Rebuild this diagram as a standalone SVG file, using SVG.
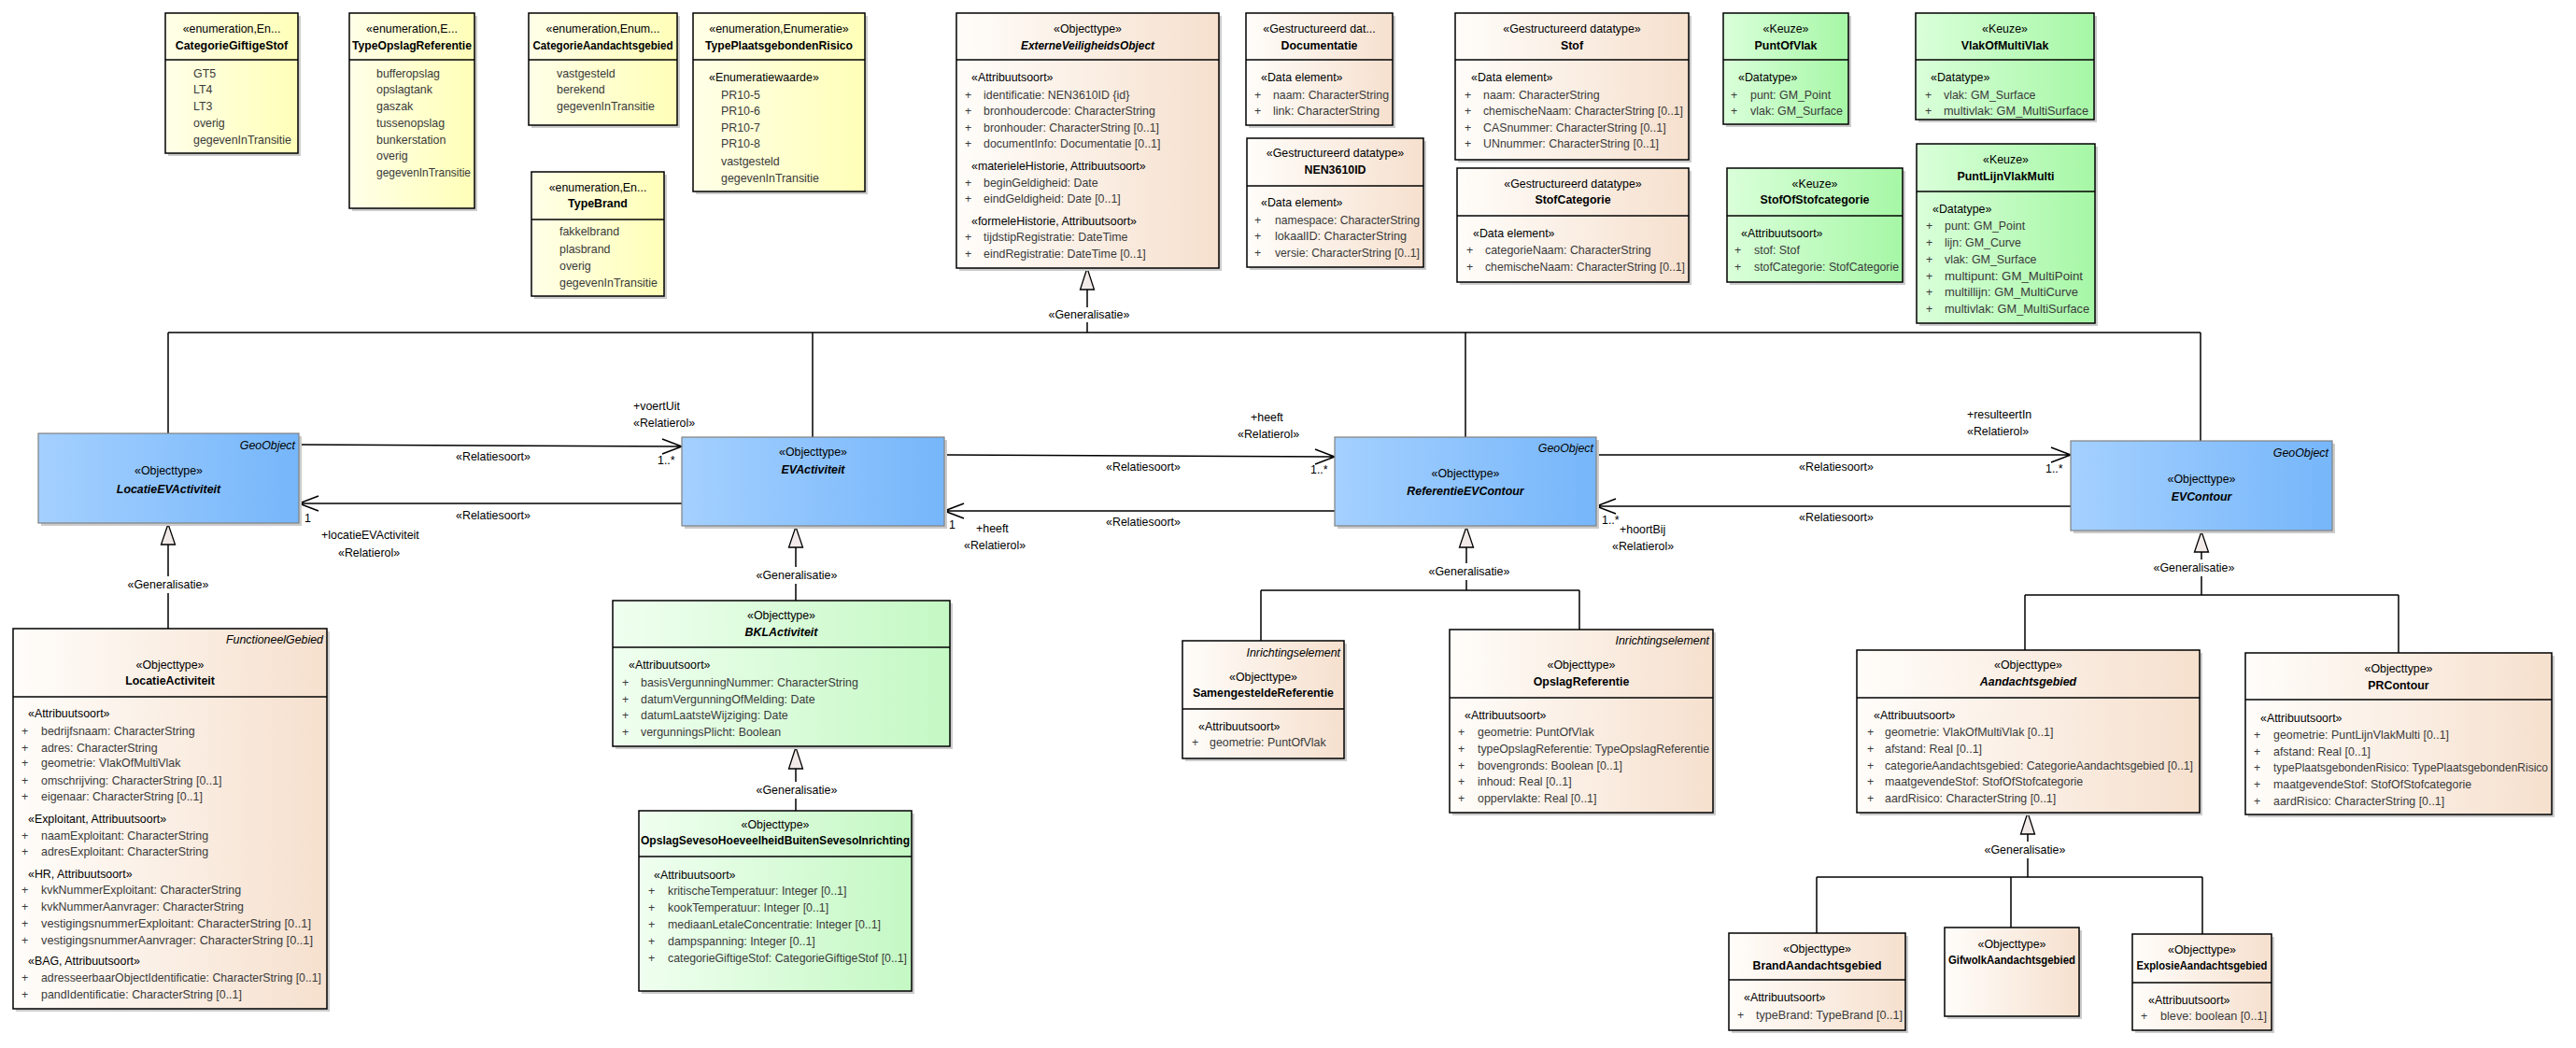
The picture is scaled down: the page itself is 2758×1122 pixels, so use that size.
<svg xmlns="http://www.w3.org/2000/svg" width="2758" height="1122" viewBox="0 0 2758 1122">
<defs>
<linearGradient id="gY" x1="0" y1="0" x2="1" y2="0"><stop offset="0" stop-color="#FFFFE8"/><stop offset="1" stop-color="#FFFFB8"/></linearGradient>
<linearGradient id="gB" x1="0" y1="0" x2="1" y2="0"><stop offset="0" stop-color="#FFFDFA"/><stop offset="1" stop-color="#F6E0CE"/></linearGradient>
<linearGradient id="gK" x1="0" y1="0" x2="1" y2="0"><stop offset="0" stop-color="#DAFFDA"/><stop offset="1" stop-color="#A6F7A6"/></linearGradient>
<linearGradient id="gL" x1="0" y1="0" x2="1" y2="0"><stop offset="0" stop-color="#F0FFF0"/><stop offset="1" stop-color="#C4F8C4"/></linearGradient>
<linearGradient id="gO" x1="0" y1="0" x2="1" y2="0"><stop offset="0" stop-color="#A4D0FF"/><stop offset="1" stop-color="#76B6FA"/></linearGradient>
</defs>
<style>
text{font-family:"Liberation Sans",Arial,sans-serif;font-size:12.4px;fill:#000}
.m{text-anchor:middle}
.e{text-anchor:end}
.b{font-weight:bold}
.i{font-style:italic}
.a{fill:#3a3a3a}
.sh{fill:#cccccc}
.bx{stroke:#000;stroke-width:1.5}
.bo{stroke:#808080;stroke-width:1.2}
.dv{stroke:#000;stroke-width:1.5}
.y{fill:url(#gY)}
.g{fill:url(#gB)}
.k{fill:url(#gK)}
.l{fill:url(#gL)}
.o{fill:url(#gO)}
.c{stroke:#000;stroke-width:1.5;fill:none}
.tri{fill:#F2EAE8;stroke:#000;stroke-width:1.3}
</style>
<rect width="2758" height="1122" fill="#fff"/>

<g id="connectors">
<!-- generalisation tree to ExterneVeiligheidsObject -->
<polygon class="tri" points="1164,287 1156.5,310 1171.5,310"/>
<path class="c" d="M1164,310V329M1164,345V356M180,356H2356M180,356V464M870,356V468M1569,356V468M2356,356V472"/>
<text class="m" x="1166" y="341">«Generalisatie»</text>
<!-- LocatieEVActiviteit <-> EVActiviteit -->
<path class="c" d="M320,476L730,478M709,470L730,478L709,486"/>
<text class="m" x="528" y="493">«Relatiesoort»</text>
<text x="678" y="439">+voertUit</text>
<text x="678" y="457">«Relatierol»</text>
<text x="704" y="497">1..*</text>
<path class="c" d="M730,539H320M341,531L320,539L341,547"/>
<text class="m" x="528" y="556">«Relatiesoort»</text>
<text x="326" y="559">1</text>
<text x="344" y="577">+locatieEVActiviteit</text>
<text x="362" y="596">«Relatierol»</text>
<!-- EVActiviteit <-> ReferentieEVContour -->
<path class="c" d="M1011,487L1429,489M1408,481L1429,489L1408,497"/>
<text class="m" x="1224" y="504">«Relatiesoort»</text>
<text x="1339" y="451">+heeft</text>
<text x="1325" y="469">«Relatierol»</text>
<text x="1403" y="507">1..*</text>
<path class="c" d="M1429,547H1011M1032,539L1011,547L1032,555"/>
<text class="m" x="1224" y="563">«Relatiesoort»</text>
<text x="1016" y="566">1</text>
<text x="1045" y="570">+heeft</text>
<text x="1032" y="588">«Relatierol»</text>
<!-- ReferentieEVContour <-> EVContour -->
<path class="c" d="M1709,487H2217M2196,479L2217,487L2196,495"/>
<text class="m" x="1966" y="504">«Relatiesoort»</text>
<text x="2106" y="448">+resulteertIn</text>
<text x="2106" y="466">«Relatierol»</text>
<text x="2190" y="506">1..*</text>
<path class="c" d="M2217,542H1709M1730,534L1709,542L1730,550"/>
<text class="m" x="1966" y="558">«Relatiesoort»</text>
<text x="1715" y="561">1..*</text>
<text x="1734" y="571">+hoortBij</text>
<text x="1726" y="589">«Relatierol»</text>
<!-- LocatieActiviteit -> LocatieEVActiviteit -->
<polygon class="tri" points="180,561 172.5,583 187.5,583"/>
<path class="c" d="M180,583V617M180,635V673"/>
<text class="m" x="180" y="630">«Generalisatie»</text>
<!-- BKLActiviteit -> EVActiviteit -->
<polygon class="tri" points="852,564 844.5,586 859.5,586"/>
<path class="c" d="M852,586V607M852,625V643"/>
<text class="m" x="853" y="620">«Generalisatie»</text>
<!-- OpslagSeveso -> BKLActiviteit -->
<polygon class="tri" points="852,800 844.5,823 859.5,823"/>
<path class="c" d="M852,823V837M852,855V868"/>
<text class="m" x="853" y="850">«Generalisatie»</text>
<!-- Samengestelde/OpslagReferentie -> ReferentieEVContour -->
<polygon class="tri" points="1570,564 1562.5,586 1577.5,586"/>
<path class="c" d="M1570,586V603M1570,621V632M1350,632H1691M1350,632V686M1691,632V674"/>
<text class="m" x="1573" y="616">«Generalisatie»</text>
<!-- Aandachtsgebied/PRContour -> EVContour -->
<polygon class="tri" points="2357,569 2349.5,591 2364.5,591"/>
<path class="c" d="M2357,591V599M2357,617V637M2168,637H2568M2168,637V696M2568,637V699"/>
<text class="m" x="2349" y="612">«Generalisatie»</text>
<!-- Brand/Gifwolk/Explosie -> Aandachtsgebied -->
<polygon class="tri" points="2171,870 2163.5,893 2178.5,893"/>
<path class="c" d="M2171,893V901M2171,919V939M1945,939H2358M1945,939V999M2153,939V993M2358,939V1000"/>
<text class="m" x="2168" y="914">«Generalisatie»</text>
</g>

<g id="CategorieGiftigeStof">
<rect class="sh" x="180" y="17" width="142" height="150"/>
<rect class="bx y" x="177" y="14" width="142" height="150"/>
<line class="dv" x1="177" y1="64" x2="319" y2="64"/>
<text class="m" x="248" y="35">«enumeration,En...</text>
<text class="m b" x="248" y="53">CategorieGiftigeStof</text>
<text class="a" x="207" y="83">GT5</text>
<text class="a" x="207" y="100">LT4</text>
<text class="a" x="207" y="118">LT3</text>
<text class="a" x="207" y="136">overig</text>
<text class="a" x="207" y="154">gegevenInTransitie</text>
</g>

<g id="TypeOpslagReferentie">
<rect class="sh" x="377" y="17" width="134" height="209"/>
<rect class="bx y" x="374" y="14" width="134" height="209"/>
<line class="dv" x1="374" y1="64" x2="508" y2="64"/>
<text class="m" x="441" y="35">«enumeration,E...</text>
<text class="m b" x="441" y="53" textLength="128" lengthAdjust="spacingAndGlyphs">TypeOpslagReferentie</text>
<text class="a" x="403" y="83">bufferopslag</text>
<text class="a" x="403" y="100">opslagtank</text>
<text class="a" x="403" y="118">gaszak</text>
<text class="a" x="403" y="136">tussenopslag</text>
<text class="a" x="403" y="154">bunkerstation</text>
<text class="a" x="403" y="171">overig</text>
<text class="a" x="403" y="189" textLength="101" lengthAdjust="spacingAndGlyphs">gegevenInTransitie</text>
</g>

<g id="CategorieAandachtsgebied">
<rect class="sh" x="569" y="17" width="159" height="120"/>
<rect class="bx y" x="566" y="14" width="159" height="120"/>
<line class="dv" x1="566" y1="64" x2="725" y2="64"/>
<text class="m" x="645.5" y="35">«enumeration,Enum...</text>
<text class="m b" x="645.5" y="53" textLength="150" lengthAdjust="spacingAndGlyphs">CategorieAandachtsgebied</text>
<text class="a" x="596" y="83">vastgesteld</text>
<text class="a" x="596" y="100">berekend</text>
<text class="a" x="596" y="118">gegevenInTransitie</text>
</g>

<g id="TypeBrand">
<rect class="sh" x="572" y="187" width="142" height="133"/>
<rect class="bx y" x="569" y="184" width="142" height="133"/>
<line class="dv" x1="569" y1="235" x2="711" y2="235"/>
<text class="m" x="640" y="205">«enumeration,En...</text>
<text class="m b" x="640" y="222">TypeBrand</text>
<text class="a" x="599" y="252">fakkelbrand</text>
<text class="a" x="599" y="271">plasbrand</text>
<text class="a" x="599" y="289">overig</text>
<text class="a" x="599" y="307">gegevenInTransitie</text>
</g>

<g id="TypePlaatsgebondenRisico">
<rect class="sh" x="745" y="17" width="184" height="191"/>
<rect class="bx y" x="742" y="14" width="184" height="191"/>
<line class="dv" x1="742" y1="64" x2="926" y2="64"/>
<text class="m" x="834" y="35">«enumeration,Enumeratie»</text>
<text class="m b" x="834" y="53" textLength="158" lengthAdjust="spacingAndGlyphs">TypePlaatsgebondenRisico</text>
<text x="759" y="87">«Enumeratiewaarde»</text>
<text class="a" x="772" y="106">PR10-5</text>
<text class="a" x="772" y="123">PR10-6</text>
<text class="a" x="772" y="141">PR10-7</text>
<text class="a" x="772" y="158">PR10-8</text>
<text class="a" x="772" y="177">vastgesteld</text>
<text class="a" x="772" y="195">gegevenInTransitie</text>
</g>

<g id="ExterneVeiligheidsObject">
<rect class="sh" x="1027" y="17" width="281" height="273"/>
<rect class="bx g" x="1024" y="14" width="281" height="273"/>
<line class="dv" x1="1024" y1="64" x2="1305" y2="64"/>
<text class="m" x="1164.5" y="35">«Objecttype»</text>
<text class="m b i" x="1164.5" y="53" textLength="143" lengthAdjust="spacingAndGlyphs">ExterneVeiligheidsObject</text>
<text x="1040" y="87">«Attribuutsoort»</text>
<text class="a" x="1033" y="106">+</text><text class="a" x="1053" y="106">identificatie: NEN3610ID {id}</text>
<text class="a" x="1033" y="123">+</text><text class="a" x="1053" y="123">bronhoudercode: CharacterString</text>
<text class="a" x="1033" y="141">+</text><text class="a" x="1053" y="141">bronhouder: CharacterString [0..1]</text>
<text class="a" x="1033" y="158">+</text><text class="a" x="1053" y="158">documentInfo: Documentatie [0..1]</text>
<text x="1040" y="182">«materieleHistorie, Attribuutsoort»</text>
<text class="a" x="1033" y="200">+</text><text class="a" x="1053" y="200">beginGeldigheid: Date</text>
<text class="a" x="1033" y="217">+</text><text class="a" x="1053" y="217">eindGeldigheid: Date [0..1]</text>
<text x="1040" y="241">«formeleHistorie, Attribuutsoort»</text>
<text class="a" x="1033" y="258">+</text><text class="a" x="1053" y="258">tijdstipRegistratie: DateTime</text>
<text class="a" x="1033" y="276">+</text><text class="a" x="1053" y="276">eindRegistratie: DateTime [0..1]</text>
</g>

<g id="Documentatie">
<rect class="sh" x="1337" y="17" width="157" height="120"/>
<rect class="bx g" x="1334" y="14" width="157" height="120"/>
<line class="dv" x1="1334" y1="64" x2="1491" y2="64"/>
<text class="m" x="1412.5" y="35">«Gestructureerd dat...</text>
<text class="m b" x="1412.5" y="53">Documentatie</text>
<text x="1350" y="87">«Data element»</text>
<text class="a" x="1343" y="106">+</text><text class="a" x="1363" y="106" textLength="124" lengthAdjust="spacingAndGlyphs">naam: CharacterString</text>
<text class="a" x="1343" y="123">+</text><text class="a" x="1363" y="123" textLength="114" lengthAdjust="spacingAndGlyphs">link: CharacterString</text>
</g>

<g id="NEN3610ID">
<rect class="sh" x="1338" y="151" width="189" height="138"/>
<rect class="bx g" x="1335" y="148" width="189" height="138"/>
<line class="dv" x1="1335" y1="199" x2="1524" y2="199"/>
<text class="m" x="1429.5" y="168">«Gestructureerd datatype»</text>
<text class="m b" x="1429.5" y="186">NEN3610ID</text>
<text x="1350" y="221">«Data element»</text>
<text class="a" x="1343" y="240">+</text><text class="a" x="1365" y="240" textLength="155" lengthAdjust="spacingAndGlyphs">namespace: CharacterString</text>
<text class="a" x="1343" y="257">+</text><text class="a" x="1365" y="257" textLength="141" lengthAdjust="spacingAndGlyphs">lokaalID: CharacterString</text>
<text class="a" x="1343" y="275">+</text><text class="a" x="1365" y="275" textLength="155" lengthAdjust="spacingAndGlyphs">versie: CharacterString [0..1]</text>
</g>

<g id="Stof">
<rect class="sh" x="1561" y="17" width="250" height="157"/>
<rect class="bx g" x="1558" y="14" width="250" height="157"/>
<line class="dv" x1="1558" y1="64" x2="1808" y2="64"/>
<text class="m" x="1683" y="35">«Gestructureerd datatype»</text>
<text class="m b" x="1683" y="53">Stof</text>
<text x="1575" y="87">«Data element»</text>
<text class="a" x="1568" y="106">+</text><text class="a" x="1588" y="106">naam: CharacterString</text>
<text class="a" x="1568" y="123">+</text><text class="a" x="1588" y="123" textLength="214" lengthAdjust="spacingAndGlyphs">chemischeNaam: CharacterString [0..1]</text>
<text class="a" x="1568" y="141">+</text><text class="a" x="1588" y="141">CASnummer: CharacterString [0..1]</text>
<text class="a" x="1568" y="158">+</text><text class="a" x="1588" y="158">UNnummer: CharacterString [0..1]</text>
</g>

<g id="StofCategorie">
<rect class="sh" x="1563" y="183" width="248" height="122"/>
<rect class="bx g" x="1560" y="180" width="248" height="122"/>
<line class="dv" x1="1560" y1="231" x2="1808" y2="231"/>
<text class="m" x="1684" y="201">«Gestructureerd datatype»</text>
<text class="m b" x="1684" y="218">StofCategorie</text>
<text x="1577" y="254">«Data element»</text>
<text class="a" x="1570" y="272">+</text><text class="a" x="1590" y="272">categorieNaam: CharacterString</text>
<text class="a" x="1570" y="290">+</text><text class="a" x="1590" y="290" textLength="214" lengthAdjust="spacingAndGlyphs">chemischeNaam: CharacterString [0..1]</text>
</g>

<g id="PuntOfVlak">
<rect class="sh" x="1848" y="17" width="134" height="119"/>
<rect class="bx k" x="1845" y="14" width="134" height="119"/>
<line class="dv" x1="1845" y1="64" x2="1979" y2="64"/>
<text class="m" x="1912" y="35">«Keuze»</text>
<text class="m b" x="1912" y="53">PuntOfVlak</text>
<text x="1861" y="87">«Datatype»</text>
<text class="a" x="1853" y="106">+</text><text class="a" x="1874" y="106">punt: GM_Point</text>
<text class="a" x="1853" y="123">+</text><text class="a" x="1874" y="123" textLength="99" lengthAdjust="spacingAndGlyphs">vlak: GM_Surface</text>
</g>

<g id="StofOfStofcategorie">
<rect class="sh" x="1852" y="183" width="188" height="122"/>
<rect class="bx k" x="1849" y="180" width="188" height="122"/>
<line class="dv" x1="1849" y1="231" x2="2037" y2="231"/>
<text class="m" x="1943" y="201">«Keuze»</text>
<text class="m b" x="1943" y="218">StofOfStofcategorie</text>
<text x="1864" y="254">«Attribuutsoort»</text>
<text class="a" x="1857" y="272">+</text><text class="a" x="1878" y="272">stof: Stof</text>
<text class="a" x="1857" y="290">+</text><text class="a" x="1878" y="290" textLength="155" lengthAdjust="spacingAndGlyphs">stofCategorie: StofCategorie</text>
</g>

<g id="VlakOfMultiVlak">
<rect class="sh" x="2054" y="17" width="191" height="114"/>
<rect class="bx k" x="2051" y="14" width="191" height="114"/>
<line class="dv" x1="2051" y1="64" x2="2242" y2="64"/>
<text class="m" x="2146.5" y="35">«Keuze»</text>
<text class="m b" x="2146.5" y="53">VlakOfMultiVlak</text>
<text x="2067" y="87">«Datatype»</text>
<text class="a" x="2061" y="106">+</text><text class="a" x="2081" y="106">vlak: GM_Surface</text>
<text class="a" x="2061" y="123">+</text><text class="a" x="2081" y="123" textLength="155" lengthAdjust="spacingAndGlyphs">multivlak: GM_MultiSurface</text>
</g>

<g id="PuntLijnVlakMulti">
<rect class="sh" x="2055" y="157" width="191" height="192"/>
<rect class="bx k" x="2052" y="154" width="191" height="192"/>
<line class="dv" x1="2052" y1="205" x2="2243" y2="205"/>
<text class="m" x="2147.5" y="175">«Keuze»</text>
<text class="m b" x="2147.5" y="193">PuntLijnVlakMulti</text>
<text x="2069" y="228">«Datatype»</text>
<text class="a" x="2062" y="246">+</text><text class="a" x="2082" y="246">punt: GM_Point</text>
<text class="a" x="2062" y="264">+</text><text class="a" x="2082" y="264">lijn: GM_Curve</text>
<text class="a" x="2062" y="282">+</text><text class="a" x="2082" y="282">vlak: GM_Surface</text>
<text class="a" x="2062" y="300">+</text><text class="a" x="2082" y="300" textLength="148" lengthAdjust="spacingAndGlyphs">multipunt: GM_MultiPoint</text>
<text class="a" x="2062" y="317">+</text><text class="a" x="2082" y="317" textLength="143" lengthAdjust="spacingAndGlyphs">multillijn: GM_MultiCurve</text>
<text class="a" x="2062" y="335">+</text><text class="a" x="2082" y="335" textLength="155" lengthAdjust="spacingAndGlyphs">multivlak: GM_MultiSurface</text>
</g>

<g id="LocatieEVActiviteit">
<rect class="sh" x="44" y="467" width="279" height="96"/>
<rect class="bo o" x="41" y="464" width="279" height="96"/>
<text class="e i" x="316" y="481">GeoObject</text>
<text class="m" x="180.5" y="508">«Objecttype»</text>
<text class="m b i" x="180.5" y="528">LocatieEVActiviteit</text>
</g>

<g id="EVActiviteit">
<rect class="sh" x="733" y="471" width="281" height="95"/>
<rect class="bo o" x="730" y="468" width="281" height="95"/>
<text class="m" x="870.5" y="488">«Objecttype»</text>
<text class="m b i" x="870.5" y="507">EVActiviteit</text>
</g>

<g id="ReferentieEVContour">
<rect class="sh" x="1432" y="471" width="280" height="95"/>
<rect class="bo o" x="1429" y="468" width="280" height="95"/>
<text class="e i" x="1706" y="484">GeoObject</text>
<text class="m" x="1569" y="511">«Objecttype»</text>
<text class="m b i" x="1569" y="530">ReferentieEVContour</text>
</g>

<g id="EVContour">
<rect class="sh" x="2220" y="475" width="280" height="96"/>
<rect class="bo o" x="2217" y="472" width="280" height="96"/>
<text class="e i" x="2493" y="489">GeoObject</text>
<text class="m" x="2357" y="517">«Objecttype»</text>
<text class="m b i" x="2357" y="536">EVContour</text>
</g>

<g id="LocatieActiviteit">
<rect class="sh" x="17" y="676" width="336" height="407"/>
<rect class="bx g" x="14" y="673" width="336" height="407"/>
<line class="dv" x1="14" y1="746" x2="350" y2="746"/>
<text class="e i" x="346" y="689">FunctioneelGebied</text>
<text class="m" x="182" y="716">«Objecttype»</text>
<text class="m b" x="182" y="733">LocatieActiviteit</text>
<text x="30" y="768">«Attribuutsoort»</text>
<text class="a" x="23" y="787">+</text><text class="a" x="44" y="787">bedrijfsnaam: CharacterString</text>
<text class="a" x="23" y="805">+</text><text class="a" x="44" y="805">adres: CharacterString</text>
<text class="a" x="23" y="821">+</text><text class="a" x="44" y="821">geometrie: VlakOfMultiVlak</text>
<text class="a" x="23" y="840">+</text><text class="a" x="44" y="840">omschrijving: CharacterString [0..1]</text>
<text class="a" x="23" y="857">+</text><text class="a" x="44" y="857">eigenaar: CharacterString [0..1]</text>
<text x="30" y="881">«Exploitant, Attribuutsoort»</text>
<text class="a" x="23" y="899">+</text><text class="a" x="44" y="899">naamExploitant: CharacterString</text>
<text class="a" x="23" y="916">+</text><text class="a" x="44" y="916">adresExploitant: CharacterString</text>
<text x="30" y="940">«HR, Attribuutsoort»</text>
<text class="a" x="23" y="957">+</text><text class="a" x="44" y="957">kvkNummerExploitant: CharacterString</text>
<text class="a" x="23" y="975">+</text><text class="a" x="44" y="975">kvkNummerAanvrager: CharacterString</text>
<text class="a" x="23" y="993">+</text><text class="a" x="44" y="993" textLength="289" lengthAdjust="spacingAndGlyphs">vestigingsnummerExploitant: CharacterString [0..1]</text>
<text class="a" x="23" y="1011">+</text><text class="a" x="44" y="1011" textLength="291" lengthAdjust="spacingAndGlyphs">vestigingsnummerAanvrager: CharacterString [0..1]</text>
<text x="30" y="1033">«BAG, Attribuutsoort»</text>
<text class="a" x="23" y="1051">+</text><text class="a" x="44" y="1051" textLength="300" lengthAdjust="spacingAndGlyphs">adresseerbaarObjectIdentificatie: CharacterString [0..1]</text>
<text class="a" x="23" y="1069">+</text><text class="a" x="44" y="1069">pandIdentificatie: CharacterString [0..1]</text>
</g>

<g id="BKLActiviteit">
<rect class="sh" x="659" y="646" width="361" height="156"/>
<rect class="bx l" x="656" y="643" width="361" height="156"/>
<line class="dv" x1="656" y1="693" x2="1017" y2="693"/>
<text class="m" x="836.5" y="663">«Objecttype»</text>
<text class="m b i" x="836.5" y="681">BKLActiviteit</text>
<text x="673" y="716">«Attribuutsoort»</text>
<text class="a" x="666" y="735">+</text><text class="a" x="686" y="735">basisVergunningNummer: CharacterString</text>
<text class="a" x="666" y="753">+</text><text class="a" x="686" y="753">datumVergunningOfMelding: Date</text>
<text class="a" x="666" y="770">+</text><text class="a" x="686" y="770">datumLaatsteWijziging: Date</text>
<text class="a" x="666" y="788">+</text><text class="a" x="686" y="788">vergunningsPlicht: Boolean</text>
</g>

<g id="OpslagSevesoHoeveelheidBuitenSevesoInrichting">
<rect class="sh" x="687" y="871" width="292" height="193"/>
<rect class="bx l" x="684" y="868" width="292" height="193"/>
<line class="dv" x1="684" y1="917" x2="976" y2="917"/>
<text class="m" x="830" y="887">«Objecttype»</text>
<text class="m b" x="830" y="904" textLength="288" lengthAdjust="spacingAndGlyphs">OpslagSevesoHoeveelheidBuitenSevesoInrichting</text>
<text x="700" y="941">«Attribuutsoort»</text>
<text class="a" x="694" y="958">+</text><text class="a" x="715" y="958">kritischeTemperatuur: Integer [0..1]</text>
<text class="a" x="694" y="976">+</text><text class="a" x="715" y="976">kookTemperatuur: Integer [0..1]</text>
<text class="a" x="694" y="994">+</text><text class="a" x="715" y="994">mediaanLetaleConcentratie: Integer [0..1]</text>
<text class="a" x="694" y="1012">+</text><text class="a" x="715" y="1012">dampspanning: Integer [0..1]</text>
<text class="a" x="694" y="1030">+</text><text class="a" x="715" y="1030" textLength="256" lengthAdjust="spacingAndGlyphs">categorieGiftigeStof: CategorieGiftigeStof [0..1]</text>
</g>

<g id="SamengesteldeReferentie">
<rect class="sh" x="1269" y="689" width="173" height="126"/>
<rect class="bx g" x="1266" y="686" width="173" height="126"/>
<line class="dv" x1="1266" y1="759" x2="1439" y2="759"/>
<text class="e i" x="1435" y="703">Inrichtingselement</text>
<text class="m" x="1352.5" y="729">«Objecttype»</text>
<text class="m b" x="1352.5" y="746" textLength="151" lengthAdjust="spacingAndGlyphs">SamengesteldeReferentie</text>
<text x="1283" y="782">«Attribuutsoort»</text>
<text class="a" x="1276" y="799">+</text><text class="a" x="1295" y="799">geometrie: PuntOfVlak</text>
</g>

<g id="OpslagReferentie">
<rect class="sh" x="1555" y="677" width="282" height="196"/>
<rect class="bx g" x="1552" y="674" width="282" height="196"/>
<line class="dv" x1="1552" y1="747" x2="1834" y2="747"/>
<text class="e i" x="1830" y="690">Inrichtingselement</text>
<text class="m" x="1693" y="716">«Objecttype»</text>
<text class="m b" x="1693" y="734">OpslagReferentie</text>
<text x="1568" y="770">«Attribuutsoort»</text>
<text class="a" x="1561" y="788">+</text><text class="a" x="1582" y="788">geometrie: PuntOfVlak</text>
<text class="a" x="1561" y="806">+</text><text class="a" x="1582" y="806" textLength="248" lengthAdjust="spacingAndGlyphs">typeOpslagReferentie: TypeOpslagReferentie</text>
<text class="a" x="1561" y="824">+</text><text class="a" x="1582" y="824">bovengronds: Boolean [0..1]</text>
<text class="a" x="1561" y="841">+</text><text class="a" x="1582" y="841">inhoud: Real [0..1]</text>
<text class="a" x="1561" y="859">+</text><text class="a" x="1582" y="859">oppervlakte: Real [0..1]</text>
</g>

<g id="Aandachtsgebied">
<rect class="sh" x="1991" y="699" width="367" height="174"/>
<rect class="bx g" x="1988" y="696" width="367" height="174"/>
<line class="dv" x1="1988" y1="747" x2="2355" y2="747"/>
<text class="m" x="2171.5" y="716">«Objecttype»</text>
<text class="m b i" x="2171.5" y="734">Aandachtsgebied</text>
<text x="2006" y="770">«Attribuutsoort»</text>
<text class="a" x="1999" y="788">+</text><text class="a" x="2018" y="788">geometrie: VlakOfMultiVlak [0..1]</text>
<text class="a" x="1999" y="806">+</text><text class="a" x="2018" y="806">afstand: Real [0..1]</text>
<text class="a" x="1999" y="824">+</text><text class="a" x="2018" y="824" textLength="330" lengthAdjust="spacingAndGlyphs">categorieAandachtsgebied: CategorieAandachtsgebied [0..1]</text>
<text class="a" x="1999" y="841">+</text><text class="a" x="2018" y="841">maatgevendeStof: StofOfStofcategorie</text>
<text class="a" x="1999" y="859">+</text><text class="a" x="2018" y="859">aardRisico: CharacterString [0..1]</text>
</g>

<g id="PRContour">
<rect class="sh" x="2407" y="702" width="328" height="173"/>
<rect class="bx g" x="2404" y="699" width="328" height="173"/>
<line class="dv" x1="2404" y1="749" x2="2732" y2="749"/>
<text class="m" x="2568" y="720">«Objecttype»</text>
<text class="m b" x="2568" y="738">PRContour</text>
<text x="2420" y="773">«Attribuutsoort»</text>
<text class="a" x="2413" y="791">+</text><text class="a" x="2434" y="791">geometrie: PuntLijnVlakMulti [0..1]</text>
<text class="a" x="2413" y="809">+</text><text class="a" x="2434" y="809">afstand: Real [0..1]</text>
<text class="a" x="2413" y="826">+</text><text class="a" x="2434" y="826" textLength="294" lengthAdjust="spacingAndGlyphs">typePlaatsgebondenRisico: TypePlaatsgebondenRisico</text>
<text class="a" x="2413" y="844">+</text><text class="a" x="2434" y="844">maatgevendeStof: StofOfStofcategorie</text>
<text class="a" x="2413" y="862">+</text><text class="a" x="2434" y="862">aardRisico: CharacterString [0..1]</text>
</g>

<g id="BrandAandachtsgebied">
<rect class="sh" x="1854" y="1002" width="189" height="104"/>
<rect class="bx g" x="1851" y="999" width="189" height="104"/>
<line class="dv" x1="1851" y1="1049" x2="2040" y2="1049"/>
<text class="m" x="1945.5" y="1020">«Objecttype»</text>
<text class="m b" x="1945.5" y="1038" textLength="138" lengthAdjust="spacingAndGlyphs">BrandAandachtsgebied</text>
<text x="1867" y="1072">«Attribuutsoort»</text>
<text class="a" x="1860" y="1091">+</text><text class="a" x="1880" y="1091" textLength="157" lengthAdjust="spacingAndGlyphs">typeBrand: TypeBrand [0..1]</text>
</g>

<g id="GifwolkAandachtsgebied">
<rect class="sh" x="2085" y="996" width="144" height="95"/>
<rect class="bx g" x="2082" y="993" width="144" height="95"/>
<text class="m" x="2154" y="1015">«Objecttype»</text>
<text class="m b" x="2154" y="1032" textLength="136" lengthAdjust="spacingAndGlyphs">GifwolkAandachtsgebied</text>
</g>

<g id="ExplosieAandachtsgebied">
<rect class="sh" x="2286" y="1003" width="149" height="103"/>
<rect class="bx g" x="2283" y="1000" width="149" height="103"/>
<line class="dv" x1="2283" y1="1052" x2="2432" y2="1052"/>
<text class="m" x="2357.5" y="1021">«Objecttype»</text>
<text class="m b" x="2357.5" y="1038" textLength="140" lengthAdjust="spacingAndGlyphs">ExplosieAandachtsgebied</text>
<text x="2300" y="1075">«Attribuutsoort»</text>
<text class="a" x="2292" y="1092">+</text><text class="a" x="2313" y="1092" textLength="114" lengthAdjust="spacingAndGlyphs">bleve: boolean [0..1]</text>
</g>
</svg>
